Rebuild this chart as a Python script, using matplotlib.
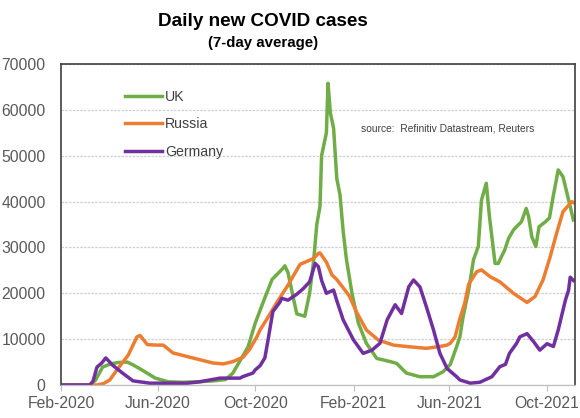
import pandas as pd
import matplotlib
matplotlib.use("Agg")
import matplotlib.pyplot as plt
import matplotlib.dates as mdates

plt.rcParams['font.family'] = ['Liberation Sans', 'DejaVu Sans']

# 7-day average of daily new cases
uk_dates = ['2020-02-01', '2020-03-08', '2020-03-15', '2020-03-24', '2020-04-03', '2020-04-12',
            '2020-04-24', '2020-05-02', '2020-05-12', '2020-05-29', '2020-06-14', '2020-07-01',
            '2020-07-20', '2020-08-10', '2020-08-25', '2020-09-03', '2020-09-22', '2020-10-01',
            '2020-10-13', '2020-10-22', '2020-11-05', '2020-11-07', '2020-11-11', '2020-11-17',
            '2020-11-22', '2020-12-02', '2020-12-08', '2020-12-13', '2020-12-17', '2020-12-21',
            '2020-12-23', '2020-12-29', '2020-12-31', '2021-01-03', '2021-01-07', '2021-01-11',
            '2021-01-15', '2021-01-19', '2021-01-23', '2021-01-30', '2021-02-07', '2021-02-17',
            '2021-03-02', '2021-03-19', '2021-03-27', '2021-04-08', '2021-04-25', '2021-05-12',
            '2021-05-24', '2021-06-02', '2021-06-10', '2021-06-14', '2021-06-18', '2021-06-25',
            '2021-07-01', '2021-07-07', '2021-07-11', '2021-07-17', '2021-07-21', '2021-07-28',
            '2021-08-01', '2021-08-05', '2021-08-09', '2021-08-14', '2021-08-20', '2021-08-26',
            '2021-08-30', '2021-09-05', '2021-09-08', '2021-09-12', '2021-09-17', '2021-09-21',
            '2021-09-29', '2021-10-04', '2021-10-09', '2021-10-15', '2021-10-21', '2021-10-26',
            '2021-10-30', '2021-11-03']
uk_cases = [0, 0, 1000, 3900, 4600, 4900,
            5000, 4300, 3300, 1500, 700, 600,
            700, 900, 1200, 2600, 8300, 13500,
            19000, 23000, 25500, 26000, 24500, 19500,
            15500, 15000, 20000, 27000, 35000, 39000,
            50000, 55000, 65800, 59300, 56000, 45000,
            41500, 33500, 27500, 20000, 13500, 9100,
            5800, 5100, 4700, 2600, 1800, 1800,
            2900, 4500, 8400, 10500, 14900, 20700,
            27300, 30200, 40300, 44000, 36700, 26500,
            26500, 28000, 29400, 32000, 33800, 34900,
            35600, 38500, 36700, 32300, 30200, 34500,
            35600, 36400, 41400, 46900, 45400, 41800,
            38900, 36000]

russia_dates = ['2020-02-01', '2020-03-17', '2020-03-25', '2020-04-02', '2020-04-11', '2020-04-25',
                '2020-04-30', '2020-05-06', '2020-05-10', '2020-05-19', '2020-05-31', '2020-06-08',
                '2020-06-20', '2020-07-08', '2020-07-24', '2020-08-09', '2020-08-22', '2020-09-03',
                '2020-09-16', '2020-09-24', '2020-10-03', '2020-10-07', '2020-10-16', '2020-10-28',
                '2020-11-10', '2020-11-26', '2020-12-13', '2020-12-19', '2020-12-21', '2020-12-29',
                '2021-01-05', '2021-01-11', '2021-01-23', '2021-01-27', '2021-02-05', '2021-02-17',
                '2021-03-04', '2021-03-23', '2021-04-08', '2021-05-03', '2021-05-20', '2021-05-29',
                '2021-06-02', '2021-06-08', '2021-06-14', '2021-06-20', '2021-06-25', '2021-07-05',
                '2021-07-11', '2021-07-22', '2021-08-03', '2021-08-20', '2021-09-06', '2021-09-16',
                '2021-09-26', '2021-10-05', '2021-10-13', '2021-10-21', '2021-11-01', '2021-11-03']
russia_cases = [0, 0, 300, 1100, 3300, 6500,
                8300, 10500, 10800, 8800, 8700, 8700,
                7000, 6200, 5500, 4800, 4600, 5100,
                6100, 7800, 10500, 12000, 14500, 18000,
                21500, 26300, 27600, 28700, 28800, 26800,
                24000, 23000, 20300, 19300, 15800, 12000,
                9800, 8700, 8400, 8000, 8400, 8700,
                9100, 10500, 14500, 17800, 22000, 24700,
                25100, 23600, 22500, 20000, 18000, 19300,
                22900, 28000, 33100, 37800, 40000, 39800]

germany_dates = ['2020-02-01', '2020-03-08', '2020-03-12', '2020-03-17', '2020-03-23', '2020-03-28',
                 '2020-04-02', '2020-04-05', '2020-04-18', '2020-05-01', '2020-05-22', '2020-06-13',
                 '2020-07-08', '2020-07-24', '2020-08-02', '2020-08-18', '2020-08-27', '2020-09-12',
                 '2020-09-15', '2020-09-28', '2020-10-01', '2020-10-07', '2020-10-13', '2020-10-17',
                 '2020-10-23', '2020-10-26', '2020-11-01', '2020-11-03', '2020-11-11', '2020-11-22',
                 '2020-11-30', '2020-12-08', '2020-12-15', '2020-12-19', '2020-12-23', '2020-12-29',
                 '2021-01-07', '2021-01-11', '2021-01-19', '2021-02-01', '2021-02-13', '2021-02-24',
                 '2021-03-06', '2021-03-15', '2021-03-25', '2021-04-02', '2021-04-11', '2021-04-17',
                 '2021-04-25', '2021-05-03', '2021-05-12', '2021-05-20', '2021-05-29', '2021-06-10',
                 '2021-06-14', '2021-06-27', '2021-07-09', '2021-07-24', '2021-08-03', '2021-08-10',
                 '2021-08-15', '2021-08-24', '2021-08-28', '2021-09-06', '2021-09-14', '2021-09-22',
                 '2021-10-01', '2021-10-09', '2021-10-15', '2021-10-24', '2021-10-28', '2021-10-30',
                 '2021-11-03']
germany_cases = [0, 0, 800, 3900, 4800, 5900,
                 5000, 4400, 2600, 900, 400, 400,
                 400, 700, 1000, 1500, 1500, 1500,
                 1800, 2600, 3300, 4200, 5900, 9800,
                 16000, 16700, 18100, 18900, 18500, 19800,
                 21000, 22500, 26500, 25800, 22800, 20000,
                 20700, 18400, 14200, 9800, 6900, 7600,
                 9100, 14200, 17500, 15600, 21400, 22900,
                 21400, 17100, 12000, 6900, 3600, 1800,
                 1100, 400, 600, 1800, 4000, 4500,
                 6900, 9100, 10500, 11200, 9500, 7600,
                 9000, 8400, 12000, 18500, 20700, 23500,
                 22800]

series = [('UK', uk_dates, uk_cases, '#70AD47'),
          ('Russia', russia_dates, russia_cases, '#ED7D31'),
          ('Germany', germany_dates, germany_cases, '#7030A0')]

fig = plt.figure(figsize=(5.8, 4.18), dpi=100)
ax = fig.add_axes([61 / 580, 1 - 385 / 418, 514 / 580, 321 / 418])

for name, d, v, col in series:
    ax.plot(pd.to_datetime(d), v, color=col, lw=2.5, label=name, solid_joinstyle='round')

ax.set_ylim(0, 70000)
ax.set_yticks(range(0, 70001, 10000))
ax.set_xlim(pd.Timestamp('2020-02-01'), pd.Timestamp('2021-11-05'))
ax.set_xticks(pd.date_range('2020-02-01', '2021-10-01', freq='4MS'))
ax.xaxis.set_major_formatter(mdates.DateFormatter('%b-%Y'))

ax.grid(axis='y', color='#D0D0D0', lw=0.9, ls=(0, (2, 1)))
ax.set_axisbelow(True)
ax.tick_params(axis='y', length=0, pad=11, labelsize=11.3, labelcolor='#595959')
ax.tick_params(axis='x', length=4, width=0.8, color='#BFBFBF', pad=4,
               labelsize=11.3, labelcolor='#595959')
for s in ['top', 'left', 'right']:
    ax.spines[s].set_color('#404040')
    ax.spines[s].set_linewidth(1.2)
ax.spines['bottom'].set_color('#BFBFBF')
ax.spines['bottom'].set_linewidth(0.9)

leg = ax.legend(loc='upper left', bbox_to_anchor=(0.125, 0.92), frameon=False,
                fontsize=10.2, handlelength=2.6, handletextpad=0.2, labelspacing=0.95,
                borderpad=0, borderaxespad=0)
for t in leg.get_texts():
    t.set_color('#404040')

ax.text(0.583, 0.80, 'source:  Refinitiv Datastream, Reuters', transform=ax.transAxes,
        fontsize=7.4, color='#404040', va='center', ha='left')

fig.text(263 / 580, 1 - 22 / 418, 'Daily new COVID cases', ha='center', va='center',
         fontsize=13.6, fontweight='bold')
fig.text(263 / 580, 1 - 43 / 418, '(7-day average)', ha='center', va='center',
         fontsize=10.8, fontweight='bold')

fig.savefig('out.png', dpi=100)
